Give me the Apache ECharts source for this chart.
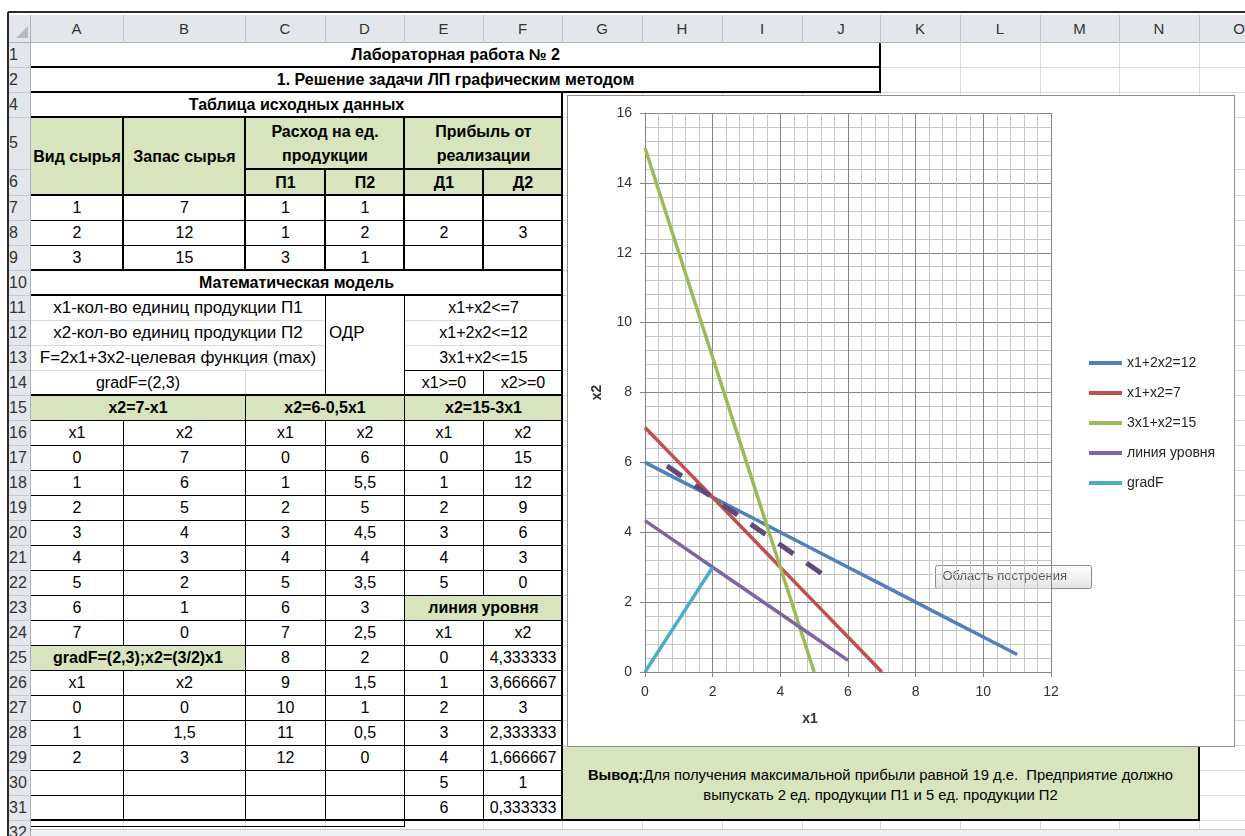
<!DOCTYPE html>
<html>
<head>
<meta charset="utf-8">
<script src="https://cdn.jsdelivr.net/npm/echarts@6/dist/echarts.min.js"></script>
<style>
  body { margin: 0; width: 1245px; height: 836px; overflow: hidden; background: #fff; position: relative;
         font-family: "Liberation Sans", Arial, sans-serif; }
  .abs { position: absolute; box-sizing: border-box; }
  .cell { position: absolute; display: flex; align-items: center; justify-content: center; white-space: nowrap;
          font-size: 16px; color: #000; line-height: 24px; text-align: center; }
  .wide { font-size: 17px; }
  .hdr { position: absolute; display: flex; align-items: center; justify-content: center; font-size: 15px; color: #333; }
  #chart { position: absolute; left: 567px; top: 95px; width: 668px; height: 652px; border: 1px solid #8e8e8e;
           box-sizing: border-box; background: #fff; }
</style>
</head>
<body>
<div id="sheet"></div>
<div id="chart"></div>
<script>
// ---- worksheet content ----
const sheetTitle = 'Лабораторная работа № 2';
const sheetSubtitle = '1. Решение задачи ЛП графическим методом';
const sourceTableTitle = 'Таблица исходных данных';
const resourceTypes = [1, 2, 3];
const resourceStock = [7, 12, 15];
const usageP1 = [1, 1, 3];
const usageP2 = [1, 2, 1];
const profitD = [2, 3];
const modelTitle = 'Математическая модель';
const modelLines = ['x1-кол-во единиц продукции П1', 'x2-кол-во единиц продукции П2',
                    'F=2x1+3x2-целевая функция (max)', 'gradF=(2,3)'];
const constraintsText = ['x1+x2<=7', 'x1+2x2<=12', '3x1+x2<=15', 'x1>=0', 'x2>=0'];
const blockTitles = ['x2=7-x1', 'x2=6-0,5x1', 'x2=15-3x1', 'линия уровня', 'gradF=(2,3);x2=(3/2)x1'];

// ---- point tables (also feed the chart) ----
const line1X = [0, 1, 2, 3, 4, 5, 6, 7];
const line1Y = [7, 6, 5, 4, 3, 2, 1, 0];
const line2X = [0, 1, 2, 3, 4, 5, 6, 7, 8, 9, 10, 11, 12];
const line2Y = [6, 5.5, 5, 4.5, 4, 3.5, 3, 2.5, 2, 1.5, 1, 0.5, 0];
const line3X = [0, 1, 2, 3, 4, 5];
const line3Y = [15, 12, 9, 6, 3, 0];
const levelX = [0, 1, 2, 3, 4, 5, 6];
const levelY = [4.333333, 3.666667, 3, 2.333333, 1.666667, 1, 0.333333];
const gradX = [0, 1, 2];
const gradY = [0, 1.5, 3];
// dashed level line through the optimum (2;5)
const optimumX = [0.65, 5.25];
const optimumY = [5.9, 2.8];

const seriesNames = ['x1+2x2=12', 'x1+x2=7', '3x1+x2=15', 'линия уровня', 'gradF'];
const xTickRange = [0, 12, 2];
const yTickRange = [0, 16, 2];
const axisNames = ['x1', 'x2'];
const plotHint = 'Область построения';
const conclusionBold = 'Вывод:';
const conclusionLines = ['Для получения максимальной прибыли равной 19 д.е.\u00a0 Предприятие должно',
                         'выпускать 2 ед. продукции П1 и 5 ед. продукции П2'];

// ---- sheet geometry ----
const COLS = 'ABCDEFGHIJKLMNO'.split('');
const COL_EDGES = [30, 123, 245, 325, 404, 483, 562, 642, 722, 802, 880, 960, 1040, 1119, 1199, 1279];
const ROWS = [1, 2, 4];
for (let r = 5; r <= 32; r++) ROWS.push(r);
const ROW_H = { 5: 52, 6: 26 };
const rowTop = {}, rowBot = {};
{ let y = 42; ROWS.forEach(r => { rowTop[r] = y; y += (ROW_H[r] || 25); rowBot[r] = y; }); }
const xl = c => COL_EDGES[COLS.indexOf(c)];
const xr = c => COL_EDGES[COLS.indexOf(c) + 1];
const fmt = v => String(v).replace('.', ',');
const GREEN = '#d7e4bd';

const sheet = document.getElementById('sheet');
function el(cls, left, top, w, h, css, html) {
  const d = document.createElement('div');
  d.className = cls;
  d.style.left = left + 'px'; d.style.top = top + 'px';
  d.style.width = w + 'px'; d.style.height = h + 'px';
  if (css) Object.assign(d.style, css);
  if (html !== undefined) d.innerHTML = html;
  sheet.appendChild(d);
  return d;
}
function H(y, x1, x2, w, color) { el('abs', x1, y - Math.floor(w / 2), x2 - x1 + 1, w, { background: color || '#000' }); }
function V(x, y1, y2, w, color) { el('abs', x - Math.floor(w / 2), y1, w, y2 - y1 + 1, { background: color || '#000' }); }

// default gridlines
ROWS.forEach(r => H(rowBot[r], 30, 1245, 1, '#d9dadc'));
COL_EDGES.slice(1).forEach(x => V(x, 42, 836, 1, '#d9dadc'));

// cells: [c1, r1, c2, r2, html, bold, fill, wide]
const cells = [];
const add = (c1, r1, c2, r2, html, bold, fill, wide) => cells.push({ c1, r1, c2, r2, html, bold, fill, wide });
add('A', 1, 'J', 1, sheetTitle, true);
add('A', 2, 'J', 2, sheetSubtitle, true);
add('A', 4, 'F', 4, sourceTableTitle, true);
add('A', 5, 'A', 6, 'Вид сырья', true, GREEN);
add('B', 5, 'B', 6, 'Запас сырья', true, GREEN);
add('C', 5, 'D', 5, 'Расход на ед.<br>продукции', true, GREEN);
add('E', 5, 'F', 5, 'Прибыль от<br>реализации', true, GREEN);
['П1', 'П2', 'Д1', 'Д2'].forEach((t, i) => add('CDEF'[i], 6, 'CDEF'[i], 6, t, true, GREEN));
resourceTypes.forEach((v, i) => {
  const r = 7 + i;
  add('A', r, 'A', r, fmt(v)); add('B', r, 'B', r, fmt(resourceStock[i]));
  add('C', r, 'C', r, fmt(usageP1[i])); add('D', r, 'D', r, fmt(usageP2[i]));
  add('E', r, 'E', r, r === 8 ? fmt(profitD[0]) : '');
  add('F', r, 'F', r, r === 8 ? fmt(profitD[1]) : '');
});
add('A', 10, 'F', 10, modelTitle, true);
add('A', 11, 'C', 11, modelLines[0], false, null, true);
add('A', 12, 'C', 12, modelLines[1], false, null, true);
add('A', 13, 'C', 13, modelLines[2], false, null, true);
add('A', 14, 'B', 14, modelLines[3]);
add('C', 14, 'C', 14, '');
add('D', 11, 'D', 14, '');
add('E', 11, 'F', 11, constraintsText[0]);
add('E', 12, 'F', 12, constraintsText[1]);
add('E', 13, 'F', 13, constraintsText[2]);
add('E', 14, 'E', 14, constraintsText[3]);
add('F', 14, 'F', 14, constraintsText[4]);
add('A', 15, 'B', 15, blockTitles[0], true, GREEN);
add('C', 15, 'D', 15, blockTitles[1], true, GREEN);
add('E', 15, 'F', 15, blockTitles[2], true, GREEN);
['x1', 'x2', 'x1', 'x2', 'x1', 'x2'].forEach((t, i) => add('ABCDEF'[i], 16, 'ABCDEF'[i], 16, t));
line1X.forEach((v, i) => { add('A', 17 + i, 'A', 17 + i, fmt(v)); add('B', 17 + i, 'B', 17 + i, fmt(line1Y[i])); });
line2X.forEach((v, i) => { add('C', 17 + i, 'C', 17 + i, fmt(v)); add('D', 17 + i, 'D', 17 + i, fmt(line2Y[i])); });
line3X.forEach((v, i) => { add('E', 17 + i, 'E', 17 + i, fmt(v)); add('F', 17 + i, 'F', 17 + i, fmt(line3Y[i])); });
add('E', 23, 'F', 23, blockTitles[3], true, GREEN);
add('E', 24, 'E', 24, 'x1'); add('F', 24, 'F', 24, 'x2');
levelX.forEach((v, i) => { add('E', 25 + i, 'E', 25 + i, fmt(v)); add('F', 25 + i, 'F', 25 + i, fmt(levelY[i])); });
add('A', 25, 'B', 25, blockTitles[4], true, GREEN);
add('A', 26, 'A', 26, 'x1'); add('B', 26, 'B', 26, 'x2');
gradX.forEach((v, i) => { add('A', 27 + i, 'A', 27 + i, fmt(v)); add('B', 27 + i, 'B', 27 + i, fmt(gradY[i])); });
add('G', 29, 'N', 31, '', false, GREEN);

cells.forEach(c => {
  const x1 = xl(c.c1), x2 = xr(c.c2), y1 = rowTop[c.r1], y2 = rowBot[c.r2];
  el('cell' + (c.wide ? ' wide' : ''), x1 + 1, y1 + 1, x2 - x1 - 1, y2 - y1 - 1,
     { background: c.fill || '#fff', fontWeight: c.bold ? 'bold' : 'normal' }, c.html);
});
// "ОДР" sits left-aligned in the merged D11:D14 block, on the row 12 line
el('cell wide', xl('D') + 4, rowTop[12], 70, 25, { justifyContent: 'flex-start' }, 'ОДР');

// conclusion text
el('cell', xl('G'), rowTop[29] + 2, xr('N') - xl('G'), 75,
   { fontSize: '14.8px', lineHeight: '20px', flexDirection: 'column' },
   '<div><b>' + conclusionBold + '</b>' + conclusionLines[0] + '</div><div>' + conclusionLines[1] + '</div>');

// ---- borders ----
H(67, 30, 880, 2); H(92, 30, 880, 2); V(880, 42, 92, 2);
H(117, 30, 562, 2);
V(562, 92, 820, 2);
V(30, 42, 820, 1);
[123, 245, 404].forEach(x => V(x, 117, 270, 2));
[325, 483].forEach(x => V(x, 169, 270, 2));
H(169, 245, 562, 2); H(195, 30, 562, 2); H(270, 30, 562, 2);
H(220, 30, 562, 1); H(245, 30, 562, 1);
H(295, 30, 562, 2);
V(325, 295, 395, 1); V(404, 295, 395, 1); H(370, 404, 562, 1); V(483, 370, 395, 1);
H(395, 30, 562, 2);
V(123, 420, 645, 1); V(123, 670, 820, 1);
V(245, 395, 820, 1); V(325, 420, 820, 1); V(404, 395, 820, 1);
V(483, 420, 595, 1); V(483, 620, 820, 1);
for (let y = 420; y <= 795; y += 25) H(y, 30, 562, 1);
H(820, 30, 562, 2); H(826, 30, 404, 1); V(404, 820, 826, 1);
// conclusion box frame
H(820, 562, 1199, 2); V(1199, 745, 820, 2); V(562, 745, 820, 2);

// ---- window chrome: column and row headers ----
el('abs', 0, 0, 1245, 11, { background: '#fff' });
H(12, 8, 1245, 2, '#2b2b2b');
el('abs', 8, 15, 1237, 27, { background: '#e3e7ec' });
H(42, 8, 1245, 1, '#a9b1bb');
COLS.forEach((c, i) => {
  const x1 = COL_EDGES[i], x2 = COL_EDGES[i + 1];
  el('hdr', x1, 15, x2 - x1, 27, null, c);
  V(x1, 15, 42, 1, '#bfc5cd');
});
el('abs', 8, 43, 22, 793, { background: '#e3e7ec' });
ROWS.forEach(r => {
  el('hdr', 9, rowTop[r], 30, rowBot[r] - rowTop[r], { justifyContent: 'flex-start', fontSize: '16px' }, String(r));
  H(rowBot[r], 8, 30, 1, '#c6ccd3');
});
V(30, 15, 836, 1, '#a9b1bb');
V(8, 12, 836, 2, '#2b2b2b');
el('abs', 16, 26, 12, 12, { background: '#b4bbc4', clipPath: 'polygon(100% 0, 100% 100%, 0 100%)' });
// sheet tab strip
el('abs', 31, 829, 1214, 7, { background: '#eef0f3', borderTop: '1px solid #c8ccd2' });

// ---- chart ----
const colors = ['#4f81bd', '#c0504d', '#9bbb59', '#8064a2', '#4bacc6'];
const pairs = (xs, ys) => xs.map((x, i) => [x, ys[i]]);
const seriesData = [
  pairs(line2X.slice(0, 12), line2Y.slice(0, 12)),
  pairs(line1X, line1Y),
  pairs(line3X, line3Y),
  pairs(levelX, levelY),
  pairs(gradX, gradY)
];
const axisGray = '#868686';
const labelStyle = { fontSize: 14, color: '#333', fontFamily: 'Liberation Sans' };

const chart = echarts.init(document.getElementById('chart'), null, { renderer: 'canvas' });
chart.setOption({
  animation: false,
  backgroundColor: '#fff',
  textStyle: { fontFamily: 'Liberation Sans' },
  grid: { left: 77, top: 17, width: 406, height: 559, containLabel: false },
  xAxis: {
    type: 'value', min: xTickRange[0], max: xTickRange[1], interval: xTickRange[2],
    name: axisNames[0], nameLocation: 'middle', nameGap: 40,
    nameTextStyle: { fontWeight: 'bold', fontSize: 14, color: '#333', padding: [0, 76, 0, 0] },
    axisLine: { show: true, lineStyle: { color: axisGray } },
    axisTick: { show: true, length: 5, lineStyle: { color: axisGray } },
    axisLabel: Object.assign({ margin: 13 }, labelStyle),
    splitLine: { show: true, lineStyle: { color: axisGray } },
    minorTick: { show: false, splitNumber: 5 },
    minorSplitLine: { show: true, lineStyle: { color: '#c6c6c6' } }
  },
  yAxis: {
    type: 'value', min: yTickRange[0], max: yTickRange[1], interval: yTickRange[2],
    name: axisNames[1], nameLocation: 'middle', nameGap: 41,
    nameTextStyle: { fontWeight: 'bold', fontSize: 14, color: '#333' },
    axisLine: { show: true, lineStyle: { color: axisGray } },
    axisTick: { show: true, length: 5, lineStyle: { color: axisGray } },
    axisLabel: Object.assign({ margin: 13 }, labelStyle),
    splitLine: { show: true, lineStyle: { color: axisGray } },
    minorTick: { show: false, splitNumber: 5 },
    minorSplitLine: { show: true, lineStyle: { color: '#c6c6c6' } }
  },
  legend: {
    orient: 'vertical', left: 516, top: 255, itemWidth: 33, itemHeight: 4, itemGap: 16,
    icon: 'rect', data: seriesNames,
    textStyle: { fontSize: 14, color: '#262626', fontFamily: 'Liberation Sans' }
  },
  series: seriesNames.map((name, i) => ({
    name, type: 'line', data: seriesData[i], symbol: 'none', silent: true,
    itemStyle: { color: colors[i] },
    lineStyle: { color: colors[i], width: 3.5 }
  })).concat([{
    name: 'level through optimum', type: 'line', data: pairs(optimumX, optimumY), symbol: 'none', silent: true,
    itemStyle: { color: '#5f497a' },
    lineStyle: { color: '#5f497a', width: 5, type: [18, 16], cap: 'butt' }
  }]),
  graphic: [{
    type: 'group', left: 367, top: 469,
    children: [
      { type: 'rect', shape: { x: 0, y: 0, width: 156, height: 23, r: 2 },
        style: { fill: new echarts.graphic.LinearGradient(0, 0, 0, 1, [{ offset: 0, color: '#ffffff' }, { offset: 1, color: '#e3e3e6' }]),
                 stroke: '#8a8a8a', lineWidth: 1 } },
      { type: 'text', x: 7, y: 4, style: { text: plotHint, fontSize: 13, fill: '#575757', fontFamily: 'Liberation Sans' } }
    ]
  }]
});
</script>
</body>
</html>
